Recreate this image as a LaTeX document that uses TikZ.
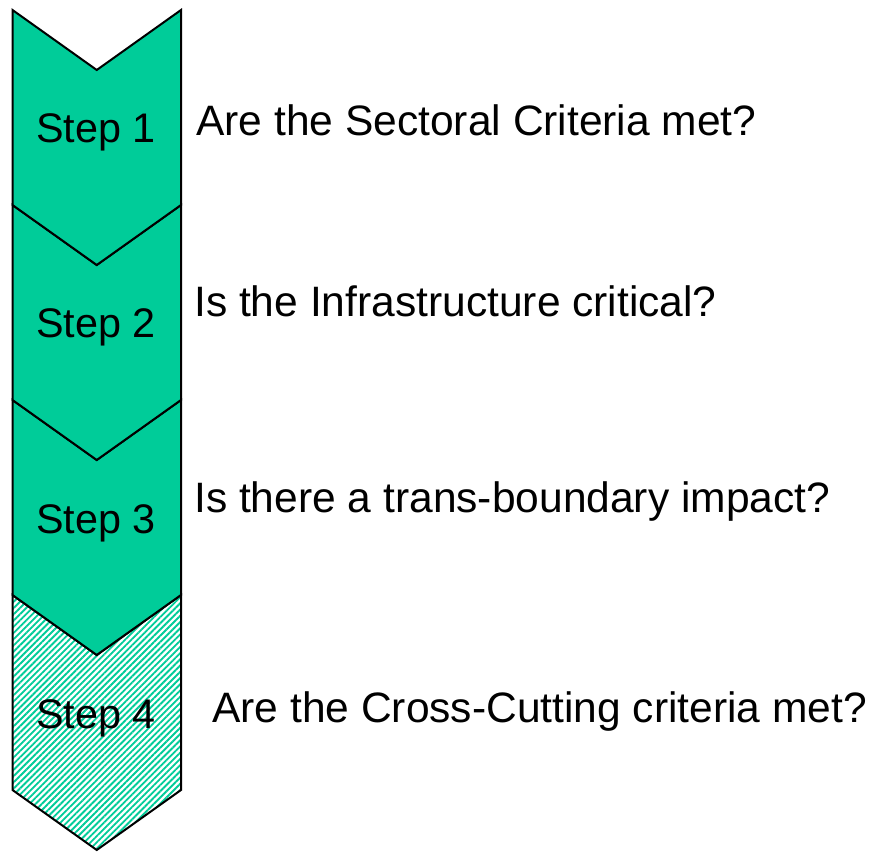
\documentclass[tikz,border=0pt]{standalone}
\usepackage{fontspec}
\setmainfont{Liberation Sans}
\usetikzlibrary{patterns.meta}
\definecolor{stepgreen}{RGB}{0,204,153}

\begin{document}
\begin{tikzpicture}[x=0.75pt,y=-0.75pt]
\tikzstyle{chev}=[draw=black, line width=1.5pt, fill=stepgreen]
\tikzstyle{hatched}=[draw=black, line width=1.5pt, preaction={fill=white},
  pattern={Lines[angle=45,distance=3.3pt,line width=1.4pt]}, pattern color=stepgreen]
\tikzstyle{steplabel}=[font=\fontsize{31}{36}\selectfont, inner sep=0, anchor=base]
\tikzstyle{question}=[font=\fontsize{31.9}{36}\selectfont, inner sep=0, anchor=base west]

\useasboundingbox (0,0) rectangle (871,852);

% Step 4 (hatched, below the others)
\draw[hatched] (12.5, 595) -- (96.75, 655) -- (181, 595) -- (181, 790)
  -- (96.75, 850) -- (12.5, 790) -- cycle;

% Steps 3..1
\foreach \x in {3,2,1}
\draw[chev] (12.5, 10+\x*195-195) -- (96.75, 70+\x*195-195) -- (181, 10+\x*195-195)
  -- (181, 205+\x*195-195) -- (96.75, 265+\x*195-195) -- (12.5, 205+\x*195-195) -- cycle;

% Labels
\foreach \x in {1,...,4}
\node at (96, 143+\x*195-195) [steplabel] (step_\x) {Step \x};

% Questions
\node at (196, 136) [question] (q_1) {Are the Sectoral Criteria met?};
\node at (194, 316) [question] (q_2) {Is the Infrastructure critical?};
\node at (194, 512) [question] (q_3) {Is there a trans-boundary impact?};
\node at (212, 722) [question] (q_4) {Are the Cross-Cutting criteria met?};
\end{tikzpicture}
\end{document}
